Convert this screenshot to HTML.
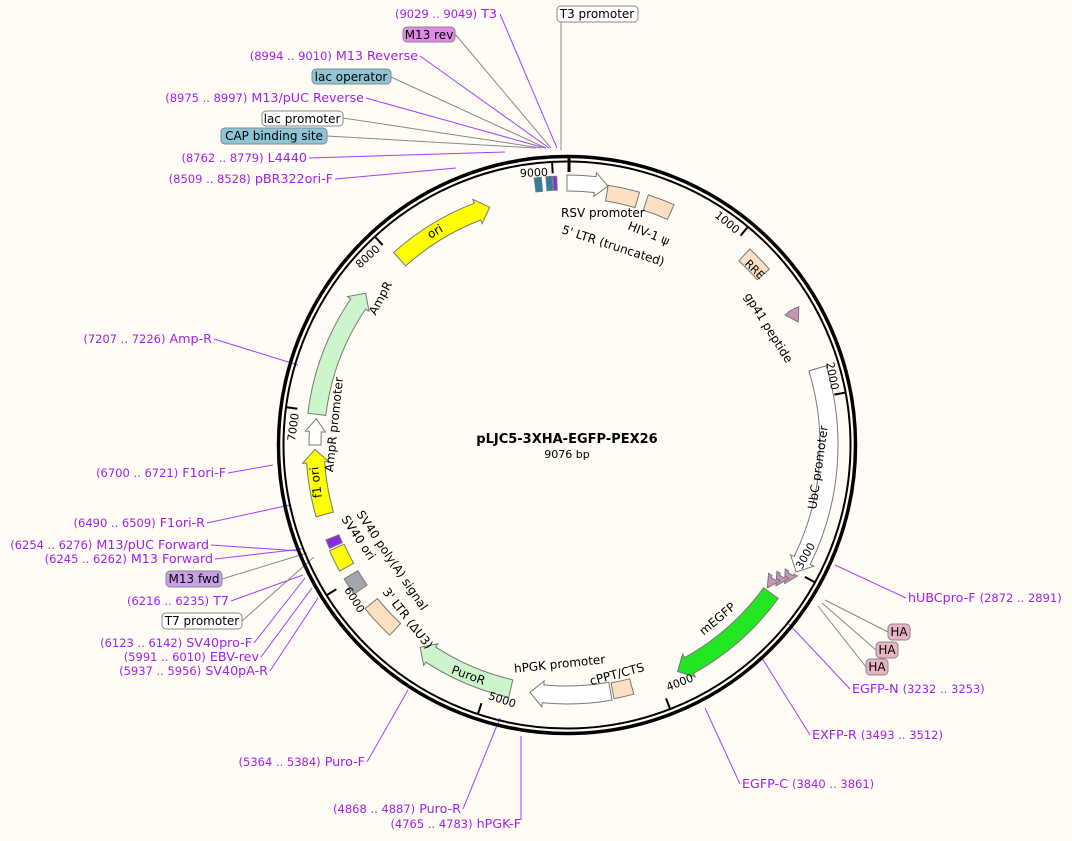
<!DOCTYPE html>
<html><head><meta charset="utf-8">
<style>
html,body{margin:0;padding:0;background:#fffcf5;}
svg{display:block;font-family:"DejaVu Sans","Liberation Sans",sans-serif;}
.p{fill:#a020f0;font-size:12.7px}
.pn{fill:#a020f0;font-size:11.5px}
.t{font-size:12px;fill:#000}
</style></head>
<body>
<svg id="s" width="1072" height="841" viewBox="0 0 1072 841" xmlns="http://www.w3.org/2000/svg">
<rect width="1072" height="841" fill="#fffcf5"/>
<g id="lines"></g>
<circle cx="567" cy="445" r="288.5" fill="none" stroke="#000" stroke-width="3.5"/>
<circle cx="567" cy="445" r="283.5" fill="none" stroke="#000" stroke-width="2"/>
<g id="feat"></g>
<g id="ticks"></g>

<text x="567" y="443" text-anchor="middle" font-weight="bold" font-size="13">pLJC5-3XHA-EGFP-PEX26</text>
<text x="567" y="458" text-anchor="middle" font-size="11">9076 bp</text>

<g font-size="11">
<text id="k9" text-anchor="end">9000</text>
<text id="k1" text-anchor="end">1000</text>
<text id="k2" text-anchor="end">2000</text>
<text id="k3">3000</text>
<text id="k4">4000</text>
<text id="k5">5000</text>
<text id="k6">6000</text>
<text id="k7" text-anchor="end">7000</text>
<text id="k8" text-anchor="end">8000</text>
</g>

<g font-size="12">
<text transform="translate(437,235) rotate(-30)" text-anchor="middle">ori</text>
<text transform="translate(384,300) rotate(-62)" text-anchor="middle">AmpR</text>
<text transform="translate(338,425) rotate(-84)" text-anchor="middle">AmpR promoter</text>
<text transform="translate(320,482) rotate(-97)" text-anchor="middle">f1 ori</text>
<text transform="translate(356,514) rotate(56)">SV40 poly(A) signal</text>
<text transform="translate(341,519) rotate(56)">SV40 ori</text>
<text transform="translate(382,592) rotate(52)">3' LTR (ΔU3)</text>
<text transform="translate(467,679) rotate(20)" text-anchor="middle">PuroR</text>
<text transform="translate(560,668) rotate(-6)" text-anchor="middle">hPGK promoter</text>
<text transform="translate(618,678) rotate(-15)" text-anchor="middle">cPPT/CTS</text>
<text transform="translate(720,622) rotate(-40)" text-anchor="middle">mEGFP</text>
<text transform="translate(822,468) rotate(-82)" text-anchor="middle">UbC promoter</text>
<text transform="translate(744,296) rotate(58)">gp41 peptide</text>
<text transform="translate(752,272) rotate(45)" text-anchor="middle" font-size="11">RRE</text>
<text transform="translate(627,229) rotate(22)">HIV-1 ψ</text>
<text transform="translate(561,217)">RSV promoter</text>
<text transform="translate(561,233) rotate(18)">5' LTR (truncated)</text>
</g>

<g>
<text x="497" y="18" text-anchor="end"><tspan class="pn">(9029 .. 9049)</tspan><tspan class="p">  T3</tspan></text>
<rect x="403" y="27" width="52" height="15" rx="4" fill="#e08ae8" stroke="#888"/>
<text x="429" y="39" text-anchor="middle" class="t">M13 rev</text>
<text x="418" y="60" text-anchor="end"><tspan class="pn">(8994 .. 9010)</tspan><tspan class="p">  M13 Reverse</tspan></text>
<rect x="312" y="69" width="79" height="15" rx="4" fill="#8ec5d6" stroke="#888"/>
<text x="351" y="81" text-anchor="middle" class="t">lac operator</text>
<text x="364" y="102" text-anchor="end"><tspan class="pn">(8975 .. 8997)</tspan><tspan class="p">  M13/pUC Reverse</tspan></text>
<rect x="262" y="111" width="81" height="15" rx="4" fill="#fff" stroke="#888"/>
<text x="302" y="123" text-anchor="middle" class="t">lac promoter</text>
<rect x="221" y="128" width="106" height="16" rx="4" fill="#8ec5d6" stroke="#888"/>
<text x="274" y="140" text-anchor="middle" class="t">CAP binding site</text>
<text x="307" y="162" text-anchor="end"><tspan class="pn">(8762 .. 8779)</tspan><tspan class="p">  L4440</tspan></text>
<text x="333" y="183" text-anchor="end"><tspan class="pn">(8509 .. 8528)</tspan><tspan class="p">  pBR322ori-F</tspan></text>
<rect x="557" y="6" width="81" height="16" rx="4" fill="#fff" stroke="#888"/>
<text x="597" y="18" text-anchor="middle" class="t">T3 promoter</text>
<text x="212" y="343" text-anchor="end"><tspan class="pn">(7207 .. 7226)</tspan><tspan class="p">  Amp-R</tspan></text>
<text x="226" y="477" text-anchor="end"><tspan class="pn">(6700 .. 6721)</tspan><tspan class="p">  F1ori-F</tspan></text>
<text x="205" y="527" text-anchor="end"><tspan class="pn">(6490 .. 6509)</tspan><tspan class="p">  F1ori-R</tspan></text>
<text x="209" y="549" text-anchor="end"><tspan class="pn">(6254 .. 6276)</tspan><tspan class="p">  M13/pUC Forward</tspan></text>
<text x="213" y="563" text-anchor="end"><tspan class="pn">(6245 .. 6262)</tspan><tspan class="p">  M13 Forward</tspan></text>
<rect x="166" y="571" width="56" height="16" rx="4" fill="#c9a0e8" stroke="#888"/>
<text x="194" y="583" text-anchor="middle" class="t">M13 fwd</text>
<text x="229" y="605" text-anchor="end"><tspan class="pn">(6216 .. 6235)</tspan><tspan class="p">  T7</tspan></text>
<rect x="162" y="613" width="80" height="16" rx="4" fill="#fff" stroke="#888"/>
<text x="202" y="625" text-anchor="middle" class="t">T7 promoter</text>
<text x="252" y="647" text-anchor="end"><tspan class="pn">(6123 .. 6142)</tspan><tspan class="p">  SV40pro-F</tspan></text>
<text x="259" y="661" text-anchor="end"><tspan class="pn">(5991 .. 6010)</tspan><tspan class="p">  EBV-rev</tspan></text>
<text x="268" y="675" text-anchor="end"><tspan class="pn">(5937 .. 5956)</tspan><tspan class="p">  SV40pA-R</tspan></text>
<text x="365" y="766" text-anchor="end"><tspan class="pn">(5364 .. 5384)</tspan><tspan class="p">  Puro-F</tspan></text>
<text x="461" y="813" text-anchor="end"><tspan class="pn">(4868 .. 4887)</tspan><tspan class="p">  Puro-R</tspan></text>
<text x="521" y="828" text-anchor="end"><tspan class="pn">(4765 .. 4783)</tspan><tspan class="p">  hPGK-F</tspan></text>
<text x="908" y="602"><tspan class="p">hUBCpro-F  </tspan><tspan class="pn">(2872 .. 2891)</tspan></text>
<rect x="888" y="624" width="22" height="16" rx="4" fill="#e8b4c4" stroke="#888"/>
<text x="899" y="636" text-anchor="middle" class="t">HA</text>
<rect x="876" y="642" width="22" height="16" rx="4" fill="#e8b4c4" stroke="#888"/>
<text x="887" y="654" text-anchor="middle" class="t">HA</text>
<rect x="866" y="659" width="22" height="16" rx="4" fill="#e8b4c4" stroke="#888"/>
<text x="877" y="671" text-anchor="middle" class="t">HA</text>
<text x="852" y="693"><tspan class="p">EGFP-N  </tspan><tspan class="pn">(3232 .. 3253)</tspan></text>
<text x="812" y="739"><tspan class="p">EXFP-R  </tspan><tspan class="pn">(3493 .. 3512)</tspan></text>
<text x="742" y="788"><tspan class="p">EGFP-C  </tspan><tspan class="pn">(3840 .. 3861)</tspan></text>
</g>

<script>
(function(){
var cx=567,cy=445,NS="http://www.w3.org/2000/svg";
function P(r,a){a=a*Math.PI/180;return [cx+r*Math.sin(a),cy-r*Math.cos(a)];}
function f(p){return p[0].toFixed(1)+","+p[1].toFixed(1);}
function add(g,tag,at){var e=document.createElementNS(NS,tag);for(var k in at)e.setAttribute(k,at[k]);document.getElementById(g).appendChild(e);return e;}
function arc(a1,a2,r,w,fill,head){
 var ro=r+w/2,ri=r-w/2,hl=13/r*180/Math.PI,d;
 var la=(a2-a1)>180?1:0;
 if(head==1){var b=a2-hl;
  d="M"+f(P(ro,a1))+"A"+ro+","+ro+" 0 "+la+" 1 "+f(P(ro,b))+"L"+f(P(ro+4,b))+"L"+f(P(r,a2))+"L"+f(P(ri-4,b))+"L"+f(P(ri,b))+"A"+ri+","+ri+" 0 "+la+" 0 "+f(P(ri,a1))+"Z";}
 else if(head==-1){var b=a1+hl;
  d="M"+f(P(r,a1))+"L"+f(P(ro+4,b))+"L"+f(P(ro,b))+"A"+ro+","+ro+" 0 "+la+" 1 "+f(P(ro,a2))+"L"+f(P(ri,a2))+"A"+ri+","+ri+" 0 "+la+" 0 "+f(P(ri,b))+"L"+f(P(ri-4,b))+"Z";}
 else{d="M"+f(P(ro,a1))+"A"+ro+","+ro+" 0 "+la+" 1 "+f(P(ro,a2))+"L"+f(P(ri,a2))+"A"+ri+","+ri+" 0 "+la+" 0 "+f(P(ri,a1))+"Z";}
 add("feat","path",{d:d,fill:fill,stroke:"#777","stroke-width":1});
}
var Y="#ffff00",G="#ccf5cc",W="#ffffff",B="#fde0c2",GR="#a3a7ac",PU="#c896b4";
arc(-42,-18,250,18,Y,1);
arc(-83,-53,252,18,G,1);
arc(-90,-84,252,12,W,1);
arc(-106,-91,252,18,Y,1);
arc(-113.5,-111.5,252,14,"#8a2be2",0);
arc(-119,-114,252,16,Y,0);
arc(-125,-121,252,16,GR,0);
arc(-137,-129,252,16,B,0);
arc(-167,-144,250,18,G,1);
arc(170,188.5,250,18,W,1);
arc(165,169.5,250,16,B,0);
arc(126,154,252,18,"#22e622",1);
arc(73,119,262,18,W,1);
arc(59,62,262,8,PU,1);
arc(43,49,260,16,B,0);
arc(18,24,255,16,B,0);
arc(9,16,255,16,B,0);
arc(0,9,262,16,W,1);
arc(-7,-5.5,262,14,"#2f7f9f",0);
arc(-4.5,-3.2,262,14,"#2f7f9f",0);
arc(-3,-2.2,262,14,"#8a2be2",0);
arc(120,122.5,258,6,PU,1);arc(121.5,124,252,6,PU,1);arc(123,125.5,246,6,PU,1);
for(var k=0;k<10;k++){var a=k*1000/9076*360;if(k==0){add("ticks","line",{x1:569,y1:157,x2:569,y2:172,stroke:"#000","stroke-width":3});continue;}
 var p1=P(283,a),p2=P(272,a);add("ticks","line",{x1:p1[0],y1:p1[1],x2:p2[0],y2:p2[1],stroke:"#000","stroke-width":2});
 var el=document.getElementById("k"+k);
 var isTop=(a<90||a>270);
 var q;
 if(isTop){q=P(270,a-1);el.setAttribute("transform","translate("+f(q)+") rotate("+a.toFixed(1)+")");}
 else{q=P(266,a-1);el.setAttribute("transform","translate("+f(q)+") rotate("+(a-180).toFixed(1)+")");}
}
function L(x1,y1,x2,y2,c){add("lines","line",{x1:x1,y1:y1,x2:x2,y2:y2,stroke:c,"stroke-width":1});}
var PC="#a040ff",GC="#888";
L(500,14,557,148,PC);L(455,34,551,148,GC);L(420,56,549,148,PC);L(391,77,546,148,GC);
L(366,98,545,148,PC);L(343,118,541,148,GC);L(327,136,536,148,GC);L(309,158,505,152,PC);
L(335,179,456,168,PC);L(561,22,561,150,GC);
L(214,339,298,365,PC);L(228,473,273,465,PC);L(207,523,290,505,PC);
L(211,545,300,551,PC);L(215,559,302,549,PC);L(222,579,307,553,GC);L(231,601,303,575,PC);
L(242,621,314,557,GC);L(254,643,305,578,PC);L(261,657,312,588,PC);L(270,671,318,598,PC);
L(367,762,408,690,PC);L(463,809,500,718,PC);L(521,820,521,736,PC);
L(906,598,835,565,PC);L(888,632,825,600,GC);L(876,650,822,603,GC);L(866,667,818,606,GC);
L(850,689,787,622,PC);L(810,735,762,658,PC);L(740,784,705,708,PC);
})();
</script>
</svg>
</body></html>
